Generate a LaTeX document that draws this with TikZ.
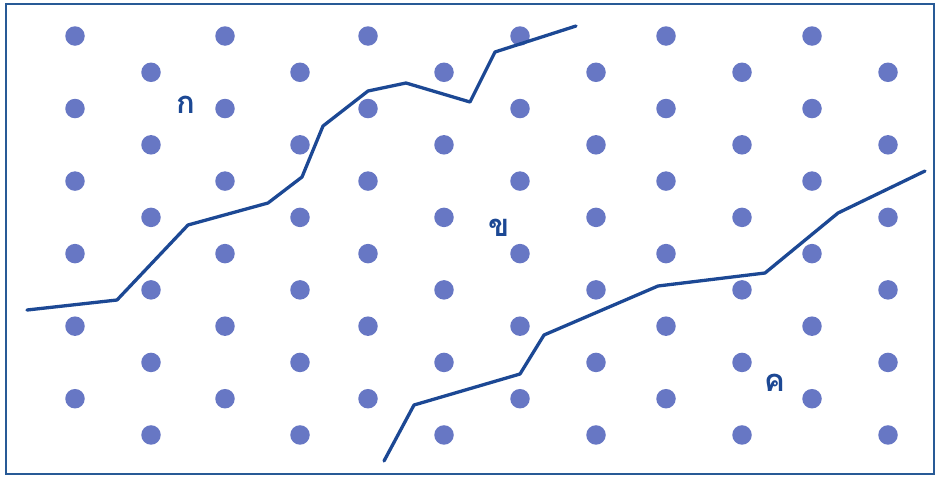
\documentclass[tikz,border=0pt]{standalone}
\usepackage{fontspec}
\newfontfamily\thaifont[Script=Thai]{Loma}
\definecolor{dotblue}{RGB}{103,119,196}
\definecolor{lineblue}{RGB}{28,72,148}
\definecolor{frameblue}{RGB}{40,90,150}
\tikzset{
  latticedot/.style={circle,fill=dotblue,draw=none,minimum size=19.5pt,inner sep=0pt},
  boundary/.style={draw=lineblue,line width=3.3pt,line join=round,line cap=round},
  zonelabel/.style={text=lineblue,font=\thaifont\bfseries\fontsize{31}{31}\selectfont,inner sep=0pt}
}
\begin{document}
\begin{tikzpicture}[x=1pt,y=-1pt]
\useasboundingbox (0,0) rectangle (939,477);
\draw[frameblue,line width=2pt] (6,4) rectangle (934,474);
% lattice dots
\foreach \k in {0,2,4,6,8,10}{
  \foreach \xx [count=\i] in {75,225,368,520,666,812}{
    \node[latticedot] (d\k-\i) at (\xx,36+36.27*\k) {};
  }
}
\foreach \k in {1,3,5,7,9,11}{
  \foreach \xx [count=\i] in {151,300,444,596,742,888}{
    \node[latticedot] (d\k-\i) at (\xx,36+36.27*\k) {};
  }
}
% upper boundary
\coordinate (a1) at (27,310);
\coordinate (a2) at (117,300);
\coordinate (a3) at (188,225);
\coordinate (a4) at (268,203);
\coordinate (a5) at (302,177);
\coordinate (a6) at (323,126);
\coordinate (a7) at (368,91);
\coordinate (a8) at (406,83);
\coordinate (a9) at (470,102);
\coordinate (a10) at (495,52);
\coordinate (a11) at (576,26);
\draw[boundary] (a1)--(a2)--(a3)--(a4)--(a5)--(a6)--(a7)--(a8)--(a9)--(a10)--(a11);
% lower boundary
\coordinate (b1) at (384,461);
\coordinate (b2) at (414,405);
\coordinate (b3) at (520,374);
\coordinate (b4) at (544,335);
\coordinate (b5) at (658,286);
\coordinate (b6) at (765,273);
\coordinate (b7) at (838,213);
\coordinate (b8) at (925,171);
\draw[boundary] (b1)--(b2)--(b3)--(b4)--(b5)--(b6)--(b7)--(b8);
% labels
\node[zonelabel] (ka) at (186,105) {ก};
\node[zonelabel] (kha) at (499,228) {ข};
\node[zonelabel] (kho) at (775,383) {ค};
\end{tikzpicture}
\end{document}
